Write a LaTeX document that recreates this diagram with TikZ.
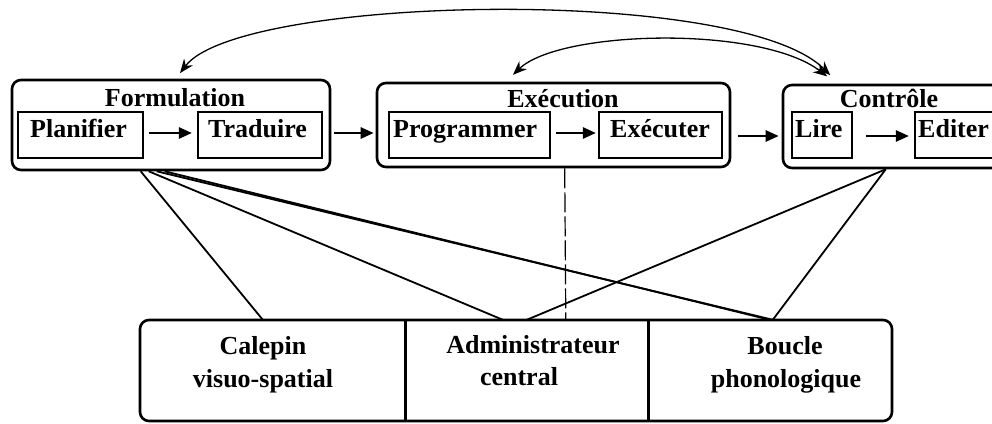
\documentclass[tikz,border=0pt]{standalone}
\usepackage{fontspec}
\setmainfont{Liberation Serif}
\usetikzlibrary{arrows.meta,calc}
\begin{document}
\begin{tikzpicture}[x=1pt,y=-1pt,
  procbox/.style={draw, line width=2.6pt, rounded corners=9pt, inner sep=0pt},
  subbox/.style={draw, line width=2.2pt, inner sep=0pt, minimum height=46pt},
  part/.style={inner sep=0pt, minimum height=101pt},
  lbl/.style={inner sep=0pt, font=\fontsize{26}{33}\selectfont\bfseries},
  flow/.style={line width=2.6pt, -{Triangle[length=13pt,width=11pt]}},
  link/.style={line width=1.8pt},
  loop/.style={line width=1.3pt, {Stealth[length=14pt,width=11pt]}-{Stealth[length=14pt,width=11pt]}},
]
\useasboundingbox (0,0) rectangle (992,423);
\clip (0,0) rectangle (992,423);

% process stages
\node[procbox, minimum width=318pt, minimum height=90pt] (form) at (171,125) {};
\node[procbox, minimum width=353pt, minimum height=84pt] (exec) at (553.5,125) {};
\node[procbox, minimum width=230pt, minimum height=83pt] (ctrl) at (898,126.5) {};

\node[lbl, anchor=base] (formT) at (175,106) {Formulation};
\node[lbl, anchor=base] (execT) at (563,107) {Exécution};
\node[lbl, anchor=base] (ctrlT) at (889,107) {Contrôle};

% sub-processes
\node[subbox, minimum width=125pt] (plan) at (80.5,135) {};
\node[subbox, minimum width=124pt] (trad) at (260,135) {};
\node[subbox, minimum width=161pt] (prog) at (469.5,135) {};
\node[subbox, minimum width=123pt] (exe)  at (660.5,135) {};
\node[subbox, minimum width=60pt]  (lire) at (822,135) {};
\node[subbox, minimum width=90pt]  (edit) at (960,135) {};

\node[lbl, anchor=base west] (planT) at (30,137)  {Planifier};
\node[lbl, anchor=base west] (tradT) at (208,137) {Traduire};
\node[lbl, anchor=base west] (progT) at (393,137) {Programmer};
\node[lbl, anchor=base west] (exeT)  at (610,137) {Exécuter};
\node[lbl, anchor=base west] (lireT) at (795,137) {Lire};
\node[lbl, anchor=base west] (editT) at (918,137) {Editer};

% working memory
\node[procbox, minimum width=752pt, minimum height=101pt] (wm) at (516,370.5) {};
\node[part, minimum width=265pt] (cal)    at (272.5,370.5) {};
\node[part, minimum width=243pt] (admin)  at (526.5,370.5) {};
\node[part, minimum width=244pt] (boucle) at (770,370.5) {};
\draw[line width=2.6pt] (cal.north east) -- (cal.south east);
\draw[line width=2.6pt] (admin.north east) -- (admin.south east);

\node[lbl, anchor=base] (calA) at (263,354) {Calepin};
\node[lbl, anchor=base] (calB) at (263,387) {visuo-spatial};
\node[lbl, anchor=base] (admA) at (533,353) {Administrateur};
\node[lbl, anchor=base] (admB) at (519,385) {central};
\node[lbl, anchor=base] (bouA) at (785,354) {Boucle};
\node[lbl, anchor=base] (bouB) at (786,387) {phonologique};

% flow between stages
\draw[flow, shorten <=5pt, shorten >=5pt] ([yshift=2pt]plan.east) -- ([yshift=2pt]plan.east -| trad.west);
\draw[flow, shorten <=3pt, shorten >=2pt] ([yshift=-8pt]form.east) -- ([yshift=-8pt]form.east -| exec.west);
\draw[flow, shorten <=5pt, shorten >=2pt] ([yshift=2pt]prog.east) -- ([yshift=2pt]prog.east -| exe.west);
\draw[flow, shorten <=7pt, shorten >=3pt] ([yshift=-11pt]exec.east) -- ([yshift=-11pt]exec.east -| ctrl.west);
\draw[flow, shorten <=13pt, shorten >=5pt] ([yshift=-1pt]lire.east) -- ([yshift=-1pt]lire.east -| edit.west);

% feedback loops
\draw[loop, shorten <=7pt, shorten >=12pt] ([xshift=165pt]form.north west) .. controls (240,-5) and (740,-15) .. ([xshift=57pt]ctrl.north west);
\draw[loop, shorten <=10pt, shorten >=12pt] ([xshift=130pt]exec.north west) .. controls (560,30) and (760,25) .. ([xshift=55pt]ctrl.north west);

% links to working memory
\draw[link] ([xshift=130pt]form.south west) -- ([xshift=123pt]cal.north west);
\draw[link] ([xshift=138pt]form.south west) -- ([xshift=98pt]admin.north west);
\draw[link] ([xshift=146pt]form.south west) -- ([xshift=125pt]boucle.north west);
\draw[link] ([xshift=154pt]form.south west) -- ([xshift=122pt]boucle.north west);
\draw[link] ([xshift=104pt]ctrl.south west) -- ([xshift=122pt]admin.north west);
\draw[link] ([xshift=104pt]ctrl.south west) -- ([xshift=125pt]boucle.north west);
\draw[line width=1.2pt, dash pattern=on 20pt off 4pt] ([xshift=189pt]exec.south west) -- ([xshift=161pt]admin.north west);
\end{tikzpicture}
\end{document}
